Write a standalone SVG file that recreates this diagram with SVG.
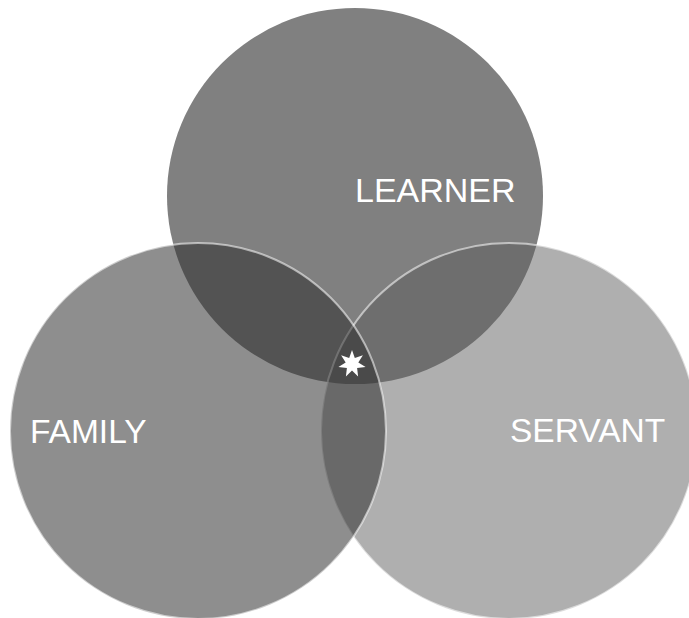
<svg xmlns="http://www.w3.org/2000/svg" width="689" height="618" viewBox="0 0 689 618">
<style>
.lbl{font-family:"Liberation Sans",Arial,sans-serif;font-size:34px;fill:#ffffff}
.ring{stroke:#ffffff;stroke-opacity:0.55;stroke-width:2}
</style>
<rect width="689" height="618" fill="#ffffff"/>
<g id="learner">
<circle cx="355" cy="196" r="188" fill="#808080"/>
</g>
<g id="servant">
<circle class="ring" cx="509" cy="431" r="188" fill="rgb(91,91,91)" fill-opacity="0.488"/>
</g>
<g id="family">
<circle class="ring" cx="198" cy="431" r="188" fill="rgb(44,44,44)" fill-opacity="0.535"/>
</g>
<g id="labels">
<text class="lbl" x="355" y="202">LEARNER</text>
<text class="lbl" x="510" y="442" style="font-size:33.5px">SERVANT</text>
<text class="lbl" x="30" y="443" style="font-size:33.5px">FAMILY</text>
</g>
<g id="center-star">
<polygon fill="#ffffff" points="352,350 354.8,358.1 362.9,355.3 358.3,362.6 365.6,367.1 357.1,368.1 358.1,376.6 352,370.5 345.9,376.6 346.9,368.1 338.4,367.1 345.7,362.6 341.1,355.3 349.2,358.1"/>
</g>
<g id="connectors"/>
</svg>
